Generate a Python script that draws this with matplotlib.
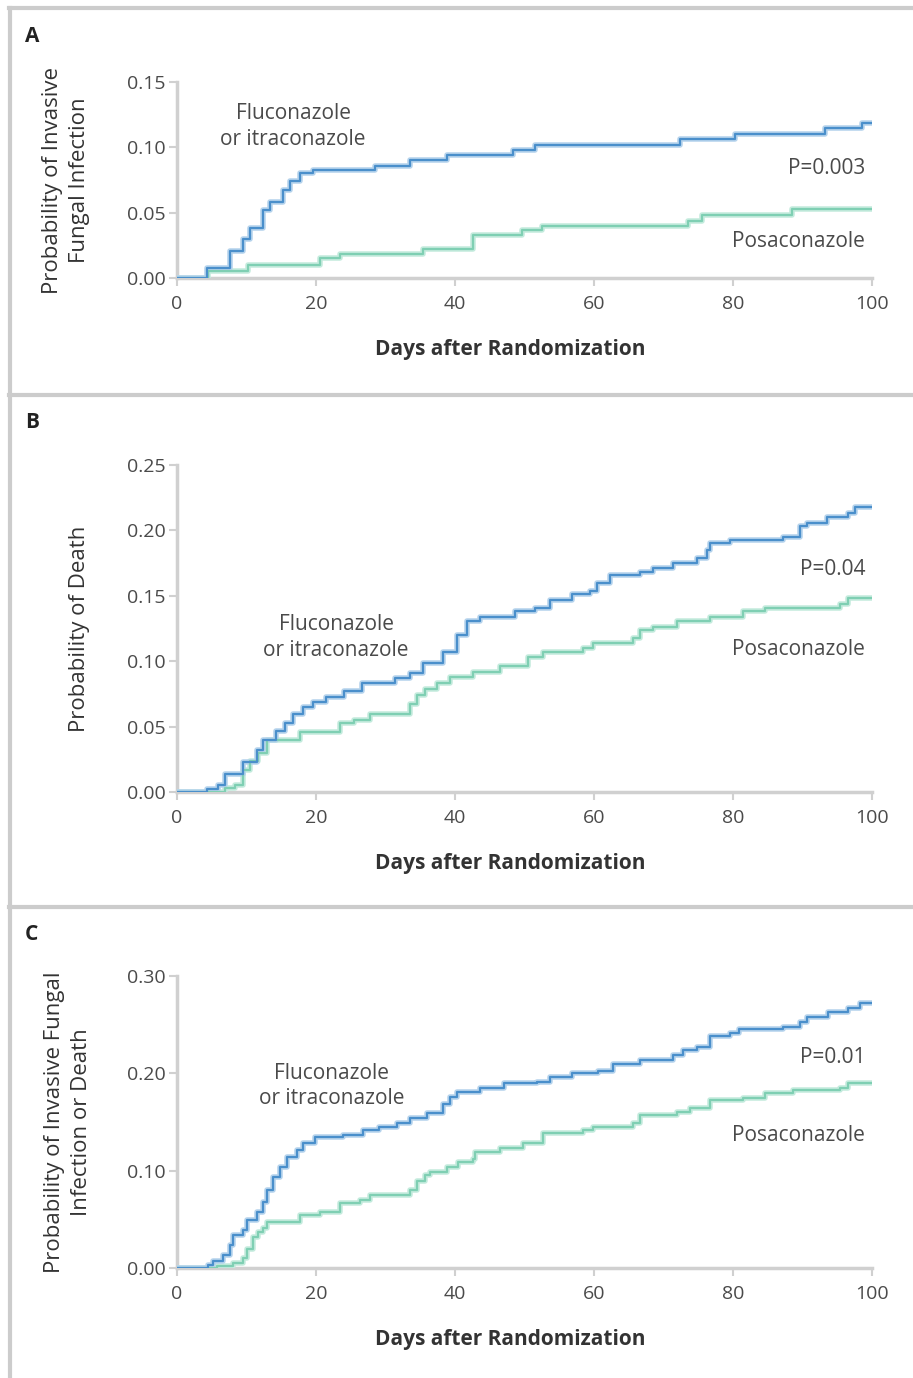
import matplotlib
matplotlib.use('Agg')
import matplotlib.pyplot as plt
from matplotlib.lines import Line2D

plt.rcParams['font.family'] = ['Open Sans', 'DejaVu Sans']

# Panel A - invasive fungal infection
a_flu_days = [0, 4.3, 7.6, 9.5, 10.5, 12.4, 13.4, 15.3, 16.3, 17.7, 19.6, 28.5, 33.5, 38.8,
              48.3, 51.5, 72.4, 80.3, 93.2, 98.6, 100]
a_flu_prob = [0, 0.008, 0.021, 0.030, 0.038, 0.052, 0.058, 0.067, 0.074, 0.080, 0.083, 0.086,
              0.090, 0.094, 0.098, 0.102, 0.106, 0.110, 0.115, 0.119, 0.119]
a_pos_days = [0, 4.5, 10.2, 20.6, 23.5, 35.4, 42.6, 49.6, 52.5, 73.5, 75.5, 88.5, 100]
a_pos_prob = [0, 0.005, 0.010, 0.015, 0.018, 0.022, 0.033, 0.037, 0.040, 0.044, 0.048,
              0.053, 0.053]

# Panel B - death
b_flu_days = [0, 4.3, 5.9, 6.9, 9.5, 11.5, 12.4, 14.3, 15.5, 16.7, 18.2, 19.6, 21.5, 24.0,
              26.6, 31.4, 33.5, 35.4, 38.3, 40.3, 41.7, 43.6, 48.6, 51.5, 53.7, 56.8, 59.4,
              60.4, 62.3, 66.6, 68.5, 71.4, 74.8, 76.3, 76.7, 79.6, 87.2, 89.6, 90.6, 93.5,
              96.5, 97.6, 100]
b_flu_prob = [0, 0.002, 0.005, 0.014, 0.023, 0.032, 0.040, 0.047, 0.053, 0.060, 0.065, 0.069,
              0.073, 0.077, 0.083, 0.087, 0.091, 0.099, 0.107, 0.120, 0.131, 0.134, 0.138,
              0.141, 0.147, 0.151, 0.154, 0.160, 0.166, 0.168, 0.171, 0.175, 0.179, 0.185,
              0.190, 0.193, 0.195, 0.203, 0.206, 0.210, 0.213, 0.218, 0.218]
b_pos_days = [0, 6.9, 8.3, 9.5, 10.5, 11.7, 12.9, 17.7, 23.5, 25.4, 27.8, 33.5, 34.5, 35.7,
              37.4, 39.3, 42.6, 46.5, 50.5, 52.7, 58.4, 59.9, 65.6, 66.6, 68.5, 71.9, 76.7,
              81.4, 84.6, 95.4, 96.5, 100]
b_pos_prob = [0, 0.003, 0.005, 0.017, 0.024, 0.030, 0.040, 0.046, 0.053, 0.055, 0.060, 0.067,
              0.074, 0.079, 0.083, 0.088, 0.092, 0.096, 0.103, 0.107, 0.110, 0.114, 0.118,
              0.124, 0.126, 0.131, 0.134, 0.138, 0.141, 0.144, 0.148, 0.148]

# Panel C - invasive fungal infection or death
c_flu_days = [0, 4.5, 5.2, 6.6, 7.6, 8.1, 9.5, 10.0, 11.5, 12.4, 12.9, 13.8, 14.8, 15.8,
              17.3, 18.2, 19.9, 23.9, 26.8, 29.0, 31.7, 33.5, 35.9, 38.3, 39.3, 40.3, 43.6,
              47.0, 51.8, 53.7, 56.8, 60.6, 62.7, 66.6, 71.4, 72.8, 74.8, 76.7, 79.6, 80.8,
              87.2, 89.6, 90.6, 93.7, 96.5, 98.3, 100]
c_flu_prob = [0, 0.003, 0.007, 0.013, 0.024, 0.034, 0.039, 0.049, 0.058, 0.068, 0.080, 0.094,
              0.104, 0.114, 0.121, 0.128, 0.135, 0.137, 0.142, 0.145, 0.149, 0.154, 0.159,
              0.169, 0.176, 0.181, 0.185, 0.190, 0.191, 0.196, 0.200, 0.202, 0.210, 0.214,
              0.219, 0.224, 0.227, 0.238, 0.241, 0.246, 0.248, 0.253, 0.258, 0.263, 0.267,
              0.272, 0.272]
c_pos_days = [0, 5.7, 8.1, 9.5, 10.0, 11.0, 11.7, 12.4, 12.9, 17.7, 20.6, 23.5, 26.3, 27.8,
              33.5, 34.5, 35.7, 36.4, 38.8, 40.5, 42.6, 42.9, 46.5, 49.8, 52.7, 58.4, 59.9,
              65.6, 66.6, 71.9, 73.8, 76.7, 81.4, 84.6, 88.6, 95.4, 96.5, 100]
c_pos_prob = [0, 0.002, 0.005, 0.010, 0.020, 0.032, 0.037, 0.041, 0.047, 0.054, 0.058, 0.067,
              0.070, 0.075, 0.080, 0.089, 0.096, 0.099, 0.104, 0.109, 0.112, 0.119, 0.123,
              0.128, 0.139, 0.142, 0.145, 0.149, 0.157, 0.160, 0.164, 0.173, 0.175, 0.180,
              0.183, 0.185, 0.190, 0.190]

x_ticks = [0, 20, 40, 60, 80, 100]

BLUE = '#4a8fcb'
BLUE_LIGHT = '#b5d3ec'
GREEN = '#7fcfb3'
GREEN_LIGHT = '#c4ebdd'
SPINE = '#d0d0d0'
TEXT = '#4a4a4a'

W, H = 913, 1378
fig = plt.figure(figsize=(W / 100, H / 100), dpi=100)


def px_ax(x0, y0, x1, y1):
    # pixel box -> figure fraction
    return [x0 / W, 1 - y1 / H, (x1 - x0) / W, (y1 - y0) / H]


panels = [
    dict(letter='A', box=(177, 82, 872, 278), ymax=0.15, yticks=[0, 0.05, 0.10, 0.15],
         ylabel='Probability of Invasive\nFungal Infection', ylab_px=90,
         flu=(a_flu_days, a_flu_prob), pos=(a_pos_days, a_pos_prob),
         flu_txt=(16.7, 0.116), p_txt=('P=0.003', 0.084), pos_txt=0.028, letter_y=37),
    dict(letter='B', box=(177, 465, 872, 792), ymax=0.25,
         yticks=[0, 0.05, 0.10, 0.15, 0.20, 0.25],
         ylabel='Probability of Death', ylab_px=90,
         flu=(b_flu_days, b_flu_prob), pos=(b_pos_days, b_pos_prob),
         flu_txt=(22.9, 0.118), p_txt=('P=0.04', 0.170), pos_txt=0.109, letter_y=422),
    dict(letter='C', box=(177, 976, 872, 1268), ymax=0.30, yticks=[0, 0.10, 0.20, 0.30],
         ylabel='Probability of Invasive Fungal\nInfection or Death', ylab_px=92,
         flu=(c_flu_days, c_flu_prob), pos=(c_pos_days, c_pos_prob),
         flu_txt=(22.3, 0.187), p_txt=('P=0.01', 0.216), pos_txt=0.136, letter_y=935),
]

for p in panels:
    x0, y0, x1, y1 = p['box']
    ax = fig.add_axes(px_ax(x0, y0, x1, y1))
    for (d, v), light, dark in [(p['pos'], GREEN_LIGHT, GREEN), (p['flu'], BLUE_LIGHT, BLUE)]:
        ax.step(d, v, where='post', color=light, lw=4, solid_capstyle='butt', zorder=2)
        ax.step(d, v, where='post', color=dark, lw=1.6, zorder=3)
    ax.set_xlim(0, 100)
    ax.set_ylim(0, p['ymax'])
    ax.set_xticks(x_ticks)
    ax.set_yticks(p['yticks'])
    ax.set_yticklabels(['{:.2f}'.format(t) for t in p['yticks']])
    for s in ['top', 'right']:
        ax.spines[s].set_visible(False)
    for s in ['left', 'bottom']:
        ax.spines[s].set_color(SPINE)
        ax.spines[s].set_linewidth(2.5)
        ax.spines[s].set_zorder(1)
    ax.tick_params(axis='both', colors=SPINE, labelcolor=TEXT, labelsize=14, width=1.5,
                   length=6)
    ax.tick_params(axis='x', pad=6)
    ax.tick_params(axis='y', pad=2)
    ax.set_xlabel('Days after Randomization', fontsize=15, fontweight='bold', color='#333333')
    ax.xaxis.set_label_coords(0.479, -61 / (y1 - y0))
    ax.set_ylabel(p['ylabel'], fontsize=16, color='#333333', linespacing=1.4)
    ax.yaxis.set_label_coords((p['ylab_px'] - x0) / (x1 - x0), 0.5)
    ax.patch.set_alpha(0)

    ax.text(p['flu_txt'][0], p['flu_txt'][1], 'Fluconazole\nor itraconazole', ha='center',
            va='center', fontsize=15, color=TEXT, linespacing=1.3)
    ax.text(99, p['p_txt'][1], p['p_txt'][0], ha='right', va='center', fontsize=15, color=TEXT)
    ax.text(99, p['pos_txt'], 'Posaconazole', ha='right', va='center', fontsize=15, color=TEXT)

    fig.text(25 / W, 1 - p['letter_y'] / H, p['letter'], fontsize=15, fontweight='bold',
             color='#222222', va='center', ha='left')

# panel frames
for y in [8, 395, 907]:
    fig.add_artist(Line2D([9 / W, 1], [1 - y / H, 1 - y / H], color='#cccccc', lw=3))
fig.add_artist(Line2D([10 / W, 10 / W], [0, 1 - 8 / H], color='#cccccc', lw=3))

fig.savefig('out.png', dpi=100)
